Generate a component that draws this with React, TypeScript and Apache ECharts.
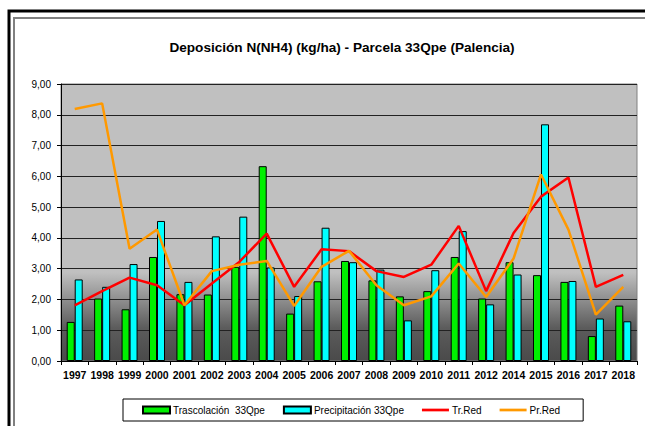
import React, { useEffect, useRef } from "react";
import * as echarts from "echarts";

const years = [
  "1997", "1998", "1999", "2000", "2001", "2002", "2003", "2004", "2005", "2006", "2007",
  "2008", "2009", "2010", "2011", "2012", "2014", "2015", "2016", "2017", "2018",
];
const trascolacion = [
  1.27, 2.03, 1.68, 3.38, 2.17, 2.16, 3.06, 6.33, 1.54, 2.59, 3.25,
  2.62, 2.1, 2.27, 3.38, 2.03, 3.21, 2.79, 2.57, 0.81, 1.8,
];
const precipitacion = [
  2.65, 2.41, 3.15, 4.55, 2.57, 4.05, 4.69, 3.04, 2.11, 4.33, 3.21,
  2.97, 1.32, 2.95, 4.22, 1.84, 2.81, 7.69, 2.6, 1.38, 1.29,
];
const trRed = [
  1.81, 2.27, 2.71, 2.46, 1.81, 2.52, 3.22, 4.14, 2.41, 3.63, 3.57,
  2.92, 2.73, 3.13, 4.39, 2.27, 4.16, 5.34, 5.96, 2.41, 2.8,
];
const prRed = [
  8.19, 8.37, 3.65, 4.27, 1.81, 2.92, 3.13, 3.25, 1.79, 3.06, 3.58,
  2.46, 1.81, 2.1, 3.17, 2.08, 3.33, 6.06, 4.27, 1.51, 2.41,
];

const FONT = "Arial, 'Liberation Sans', sans-serif";
const LINE_ICON = "path://M0,0H100V10H0Z";

export default function App() {
  const ref = useRef<HTMLDivElement>(null);
  useEffect(() => {
    if (!ref.current) return;
    const chart = echarts.init(ref.current, undefined, { renderer: "svg" });
    chart.setOption({
      animation: false,
      backgroundColor: "#ffffff",
      textStyle: { fontFamily: FONT },
      title: {
        text: "Deposición N(NH4) (kg/ha) - Parcela 33Qpe (Palencia)",
        left: 337,
        textAlign: "center",
        top: 35,
        textStyle: { fontFamily: FONT, fontSize: 13.6, fontWeight: "bold", color: "#000" },
      },
      graphic: [
        {
          type: "rect",
          shape: { x: 9, y: 11, width: 1000, height: 1000 },
          style: { fill: "none", stroke: "#000", lineWidth: 3 },
          silent: true,
          z: 100,
        },
        {
          type: "rect",
          shape: { x: 14, y: 18, width: 1000, height: 1000 },
          style: { fill: "none", stroke: "#808080", lineWidth: 2 },
          silent: true,
          z: 100,
        },
      ],
      legend: {
        left: 123,
        top: 399,
        padding: [6, 23, 6, 19],
        borderColor: "#000",
        borderWidth: 1,
        itemGap: 18,
        itemWidth: 27,
        itemHeight: 7,
        textStyle: { fontFamily: FONT, fontSize: 10, color: "#000", padding: [0, 0, 0, -2] },
        data: [
          { name: "Trascolación  33Qpe", icon: "rect" },
          { name: "Precipitación 33Qpe", icon: "rect" },
          { name: "Tr.Red", icon: LINE_ICON, itemStyle: { color: "#ff0000", borderWidth: 0 } },
          { name: "Pr.Red", icon: LINE_ICON, itemStyle: { color: "#ff9900", borderWidth: 0 } },
        ],
      },
      grid: {
        left: 61,
        right: 8,
        top: 84,
        bottom: 65,
        show: true,
        borderColor: "#808080",
        borderWidth: 1,
        backgroundColor: new echarts.graphic.LinearGradient(0, 0, 0, 1, [
          { offset: 0, color: "#c0c0c0" },
          { offset: 0.68, color: "#c0c0c0" },
          { offset: 0.88, color: "#5c5c5c" },
          { offset: 1, color: "#4a4a4a" },
        ]),
      },
      xAxis: {
        type: "category",
        data: years,
        axisLine: { lineStyle: { color: "#000", width: 1 } },
        axisTick: { show: true, length: 4, lineStyle: { color: "#000" } },
        axisLabel: {
          fontFamily: FONT,
          fontSize: 10.5,
          fontWeight: "bold",
          color: "#000",
          margin: 8,
          interval: 0,
        },
      },
      yAxis: {
        type: "value",
        min: 0,
        max: 9,
        interval: 1,
        axisLine: { show: true, lineStyle: { color: "#000" } },
        axisTick: { show: true, length: 4, lineStyle: { color: "#000" } },
        axisLabel: {
          fontFamily: FONT,
          fontSize: 10,
          color: "#000",
          margin: 10,
          formatter: (v: number) => v.toFixed(2).replace(".", ","),
        },
        splitLine: { show: true, lineStyle: { color: "#222", width: 1 } },
      },
      series: [
        {
          name: "Trascolación  33Qpe",
          type: "bar",
          data: trascolacion,
          barWidth: 8,
          barGap: "0%",
          itemStyle: { color: "#00f000", borderColor: "#000", borderWidth: 1 },
        },
        {
          name: "Precipitación 33Qpe",
          type: "bar",
          data: precipitacion,
          barWidth: 8,
          barGap: "0%",
          itemStyle: { color: "#00ffff", borderColor: "#000", borderWidth: 1 },
        },
        {
          name: "Tr.Red",
          type: "line",
          data: trRed,
          symbol: "none",
          lineStyle: { color: "#ff0000", width: 2.5 },
          itemStyle: { color: "#ff0000" },
          z: 5,
        },
        {
          name: "Pr.Red",
          type: "line",
          data: prRed,
          symbol: "none",
          lineStyle: { color: "#ff9900", width: 2.5 },
          itemStyle: { color: "#ff9900" },
          z: 6,
        },
      ],
    });
    return () => chart.dispose();
  }, []);
  return (
    <div
      ref={ref}
      style={{ position: "fixed", left: 0, top: 0, width: 645, height: 426 }}
    />
  );
}
